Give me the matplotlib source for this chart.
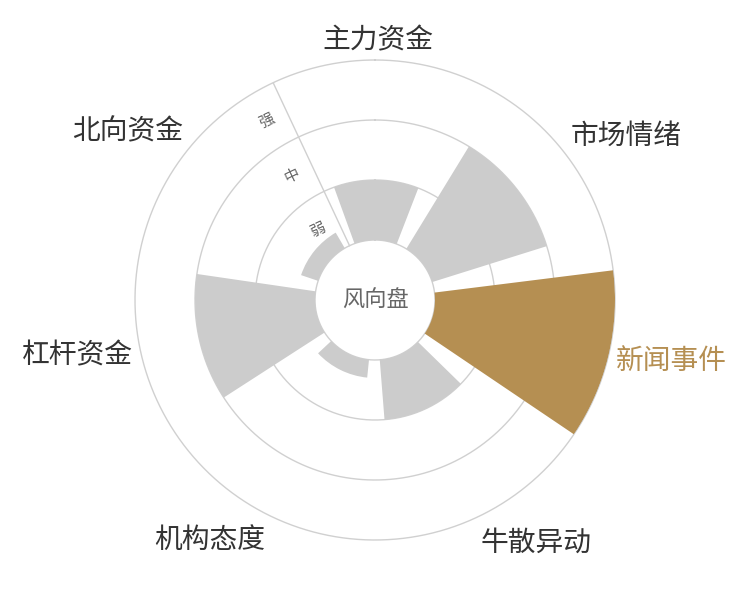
import numpy as np
import matplotlib
matplotlib.use("Agg")
import matplotlib.pyplot as plt

plt.rcParams['font.family'] = ['Noto Sans CJK SC', 'DejaVu Sans']

# ------------------------------------------------------------
# data
# ------------------------------------------------------------
categories = ["主力资金", "市场情绪", "新闻事件", "牛散异动", "机构态度", "杠杆资金", "北向资金"]
values = [1.0, 2.0, 3.0, 1.0, 0.3, 2.0, 0.3]
highlight = "新闻事件"
levels = ["弱", "中", "强"]
center_label = "风向盘"

GRAY = "#cccccc"
GOLD = "#b58f52"
LINE = "#d0d0d0"

n = len(categories)
step = 2 * np.pi / n
theta = np.arange(n) * step + np.radians(0.6)
HOLE = 1.0          # radius of the centre hole (in value units)
RMAX = HOLE + len(levels)

# ------------------------------------------------------------
# plot
# ------------------------------------------------------------
fig = plt.figure(figsize=(7.5, 6), dpi=100)
ax = fig.add_axes([0.18, 0.1, 0.64, 0.8], projection="polar")
ax.set_theta_zero_location("N")
ax.set_theta_direction(-1)
ax.set_ylim(0, RMAX)
ax.axis("off")

# ring lines
tt = np.linspace(0, 2 * np.pi, 400)
for r in range(1, int(RMAX) + 1):
    ax.plot(tt, np.full_like(tt, r), color=LINE, lw=1, zorder=1, clip_on=False)

# radial axis line (half a category before the first one)
ax_ang = theta[0] - step / 2
ax.plot([ax_ang, ax_ang], [HOLE, RMAX], color=LINE, lw=1, zorder=1)

# bars
colors = [GOLD if c == highlight else GRAY for c in categories]
ax.bar(theta, values, width=step * 0.8, bottom=HOLE, color=colors,
       edgecolor="none", zorder=2)

# level labels along the radial axis
for i, lab in enumerate(levels):
    ax.annotate(lab, xy=(ax_ang, HOLE + i + 0.5), xytext=(-14, -8),
                textcoords="offset points", rotation=25.7,
                ha="center", va="center", fontsize=11, color="#666666",
                zorder=4)

# category labels
lab_r = RMAX + 8 / 60
for t, c in zip(theta, categories):
    ang = np.pi / 2 - t       # standard math angle
    cx, cy = np.cos(ang), np.sin(ang)
    ha = "center" if abs(cx) < 0.3 else ("left" if cx > 0 else "right")
    va = "center" if abs(cy) < 0.3 else ("bottom" if cy > 0 else "top")
    ax.annotate(c, xy=(t, lab_r), xytext=(0, -3), textcoords="offset pixels",
                ha=ha, va=va, fontsize=20, annotation_clip=False,
                color=GOLD if c == highlight else "#333333", zorder=4)

# centre label
ax.text(0, 0, center_label, ha="center", va="center", fontsize=16,
        color="#666666", zorder=4)

fig.savefig("out.png", dpi=100)
